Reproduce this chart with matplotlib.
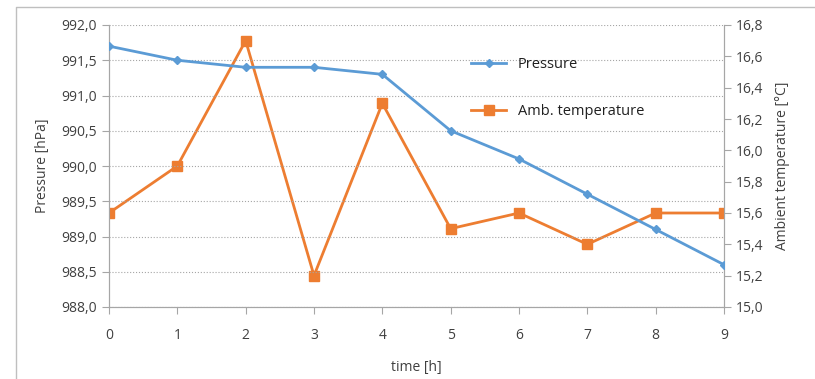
import matplotlib.pyplot as plt
from matplotlib.lines import Line2D
from matplotlib.ticker import FuncFormatter, MultipleLocator

hours = [0, 1, 2, 3, 4, 5, 6, 7, 8, 9]
pressure = [991.7, 991.5, 991.4, 991.4, 991.3, 990.5, 990.1, 989.6, 989.1, 988.6]
amb_temp = [15.6, 15.9, 16.7, 15.2, 16.3, 15.5, 15.6, 15.4, 15.6, 15.6]

BLUE = "#5b9bd5"
ORANGE = "#ed7d31"
GRID = "#a6a6a6"
TXT = "#404040"

plt.rcParams["font.family"] = ["Open Sans", "DejaVu Sans"]
plt.rcParams["font.size"] = 10

fig = plt.figure(figsize=(8.15, 3.79), dpi=100)
ax = fig.add_axes([109 / 815, 1 - 307 / 379, 615 / 815, 282 / 379])
ax2 = ax.twinx()

comma = lambda v, p: f"{v:.1f}".replace(".", ",")

ax.plot(hours, pressure, color=BLUE, lw=2, marker="D", ms=4, label="Pressure", zorder=3)
ax2.plot(hours, amb_temp, color=ORANGE, lw=2, marker="s", ms=7, label="Amb. temperature", zorder=3)

ax.set_xlim(0, 9)
ax.set_ylim(988.0, 992.0)
ax2.set_ylim(15.0, 16.8)
ax.xaxis.set_major_locator(MultipleLocator(1))
ax.yaxis.set_major_locator(MultipleLocator(0.5))
ax2.yaxis.set_major_locator(MultipleLocator(0.2))
ax.yaxis.set_major_formatter(FuncFormatter(comma))
ax2.yaxis.set_major_formatter(FuncFormatter(comma))

ax.grid(axis="y", color=GRID, ls=":", lw=0.8)
for a in (ax, ax2):
    for s in a.spines.values():
        s.set_color(GRID)
    a.spines["top"].set_visible(False)
    a.tick_params(colors=GRID, labelcolor=TXT, length=5, labelsize=10)
ax.tick_params(axis="x", pad=10)
ax2.set_zorder(ax.get_zorder() + 1)
ax2.patch.set_visible(False)
ax.set_zorder(ax2.get_zorder() + 1)
ax.patch.set_visible(False)

ax.set_ylabel("Pressure [hPa]", color=TXT, labelpad=8)
ax2.set_ylabel("Ambient temperature [°C]", color=TXT, labelpad=8)
ax.set_xlabel("time [h]", color=TXT, labelpad=12)

handles = ax.get_lines()[:1] + ax2.get_lines()[:1]
fig.legend(handles, [h.get_label() for h in handles], loc="upper left",
           bbox_to_anchor=(458 / 815, 1 - 44 / 379), frameon=False,
           labelspacing=2.2, handlelength=2.4, fontsize=10.5, labelcolor="#202020")

fig.add_artist(Line2D([16 / 815, 16 / 815, 1], [0, 1 - 7 / 379, 1 - 7 / 379],
                      transform=fig.transFigure, color="#bfbfbf", lw=1))

fig.savefig("out.png", dpi=100)
